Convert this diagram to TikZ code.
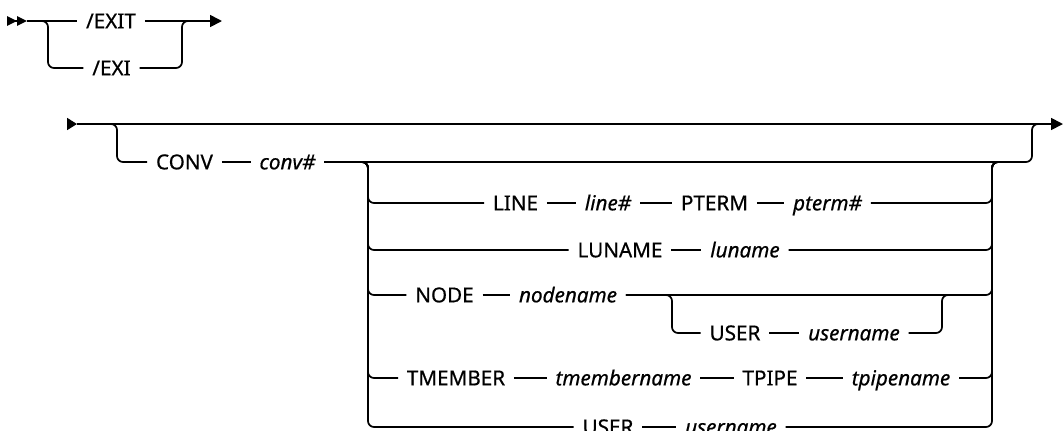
\documentclass[tikz,border=0pt]{standalone}
\usepackage{fontspec}
\setmainfont{Noto Sans}[UprightFeatures={FakeBold=0.6},ItalicFeatures={FakeBold=0.6}]
\usetikzlibrary{arrows.meta,calc}

\tikzset{
  kw/.style={inner xsep=6pt,inner ysep=0pt,text height=11pt,text depth=0pt,
    font=\fontsize{15.5}{17}\selectfont},
  var/.style={kw,font=\fontsize{15.5}{17}\selectfont\itshape},
  rc/.style={rounded corners=4.5pt},
  endtip/.style={-{Triangle[length=9pt,width=9pt]}},
  starttip/.style={-{Triangle[length=7.5pt,width=9pt]}},
  dbltip/.style={-{Triangle[length=7.5pt,width=7pt]Triangle[length=7.5pt,width=7pt]}}
}

\begin{document}
\begin{tikzpicture}[x=0.75pt,y=-0.75pt,line width=1.3pt]
  \useasboundingbox (0,0) rectangle (1064,430);

  % first diagram
  \coordinate (s0) at (7,21);
  \coordinate (s1) at (27,21);
  \coordinate (eL) at (48,21);
  \coordinate (eR) at (182,21);
  \coordinate (s2) at (222,21);
  \node[kw] (exit) at (111,21) {/EXIT};
  \node[kw] (exi) at (111.5,68) {/EXI};
  \draw[dbltip] (s0) -- (s1);
  \draw (s1) -- (exit);
  \draw[endtip] (exit) -- (s2);
  \draw[rc] (s1) -- (eL) |- (exi);
  \draw[rc] (exi) -| (eR) -- ($(eR)+(10,0)$);

  % second diagram
  \coordinate (a0) at (67,124);
  \coordinate (a1) at (77,124);
  \coordinate (oL) at (117,124);
  \coordinate (oR) at (1032,124);
  \coordinate (a2) at (1063,124);
  \draw[starttip] (a0) -- (a1);
  \draw[endtip] (a1) -- (a2);
  \node[kw] (conv) at (184.5,162) {CONV};
  \node[var] (convno) at (287.5,162) {conv\#};
  \draw[rc] (a1) -- (oL) |- (conv);
  \draw (conv) -- (convno);
  \draw[rc] (convno) -| (oR) -- ($(oR)+(10,0)$);

  % choices after conv#
  \coordinate (iL) at (368,162);
  \coordinate (iR) at (992,162);
  \node[kw] (kLine) at (515.5,203) {LINE};
  \node[var] (vLine) at (608,203) {line\#};
  \node[kw] (kPterm) at (714.5,203) {PTERM};
  \node[var] (vPterm) at (827.5,203) {pterm\#};
  \node[kw] (kLuname) at (620,250) {LUNAME};
  \node[var] (vLuname) at (745,250) {luname};
  \node[kw] (kNode) at (444.5,295) {NODE};
  \node[var] (vNode) at (568,295) {nodename};
  \node[kw] (kUser) at (735,333) {USER};
  \node[var] (vUser) at (854,333) {username};
  \node[kw] (kTmember) at (456,378) {TMEMBER};
  \node[var] (vTmember) at (623.5,378) {tmembername};
  \node[kw] (kTpipe) at (770,378) {TPIPE};
  \node[var] (vTpipe) at (901,378) {tpipename};
  \node[kw] (kUserB) at (608,427) {USER};
  \node[var] (vUserB) at (731,427) {username};
  \draw (kLine) -- (vLine) -- (kPterm) -- (vPterm);
  \draw (kLuname) -- (vLuname);
  \draw (kNode) -- (vNode);
  \draw (kTmember) -- (vTmember) -- (kTpipe) -- (vTpipe);
  \draw (kUserB) -- (vUserB);
  \foreach \a/\b in {kLine/vPterm,kLuname/vLuname,kNode/vNode,kTmember/vTpipe,kUserB/vUserB}{
    \draw[rc] (convno) -- (iL) |- (\a);
    \draw[rc] (\b) -| (iR) -- ($(iR)+(10,0)$);
  }

  % optional USER after nodename
  \coordinate (nL) at (672,295);
  \coordinate (nR) at (942,295);
  \draw[rc] (vNode) -- (nL) |- (kUser);
  \draw (kUser) -- (vUser);
  \draw[rc] (vUser) -| (nR) -- ($(nR)+(10,0)$);
\end{tikzpicture}
\end{document}
